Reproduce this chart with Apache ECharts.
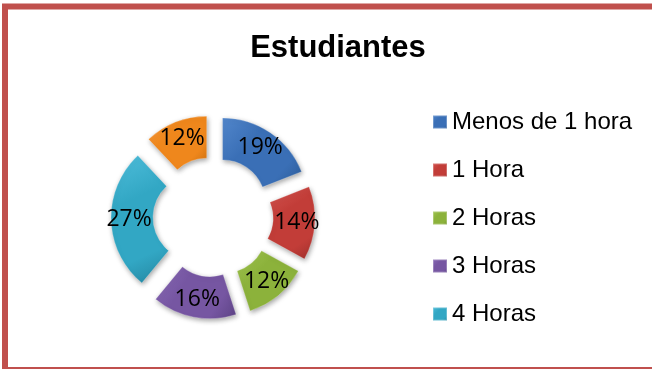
<!DOCTYPE html>
<html>
<head>
<meta charset="utf-8">
<script src="https://cdn.jsdelivr.net/npm/echarts@6/dist/echarts.min.js"></script>
<style>
  html, body { margin: 0; padding: 0; background: #ffffff; }
  #chart { width: 652px; height: 369px; }
</style>
</head>
<body>
<div id="chart"></div>
<script>
// Time spent by students, share per group
const categories = ['Menos de 1 hora', '1 Hora', '2 Horas', '3 Horas', '4 Horas', 'Más de 4 horas'];
const values = [19, 14, 12, 16, 27, 12];
const legendNames = ['Menos de 1 hora', '1 Hora', '2 Horas', '3 Horas', '4 Horas'];
// base, light and dark tones for each slice
const baseColors = ['#3a6fb6', '#c23d38', '#8cb23b', '#7656a2', '#32a7c4', '#ef871c'];
const lightColors = ['#5287cc', '#d65753', '#a3c853', '#8a6cb8', '#4fbedb', '#f69d42'];
const darkColors = ['#2b5a96', '#9c2f2b', '#6f8f2c', '#5c4284', '#23849e', '#c86d10'];

function bevel(i) {
  return new echarts.graphic.LinearGradient(0, 0, 1, 1, [
    { offset: 0, color: lightColors[i] },
    { offset: 0.35, color: baseColors[i] },
    { offset: 0.75, color: baseColors[i] },
    { offset: 1, color: darkColors[i] }
  ]);
}

const chart = echarts.init(document.getElementById('chart'));
chart.setOption({
  animation: false,
  backgroundColor: '#ffffff',
  title: {
    text: 'Estudiantes',
    left: 333,
    top: 28,
    textAlign: 'center',
    textStyle: {
      fontFamily: '"Liberation Sans", Arial, sans-serif',
      fontWeight: 'bold',
      fontSize: 31,
      color: '#000000'
    }
  },
  legend: {
    data: legendNames,
    orient: 'vertical',
    left: 427,
    top: 105,
    itemWidth: 14,
    itemHeight: 13,
    itemGap: 24,
    icon: 'rect',
    selectedMode: false,
    textStyle: {
      fontFamily: '"Liberation Sans", Arial, sans-serif',
      fontSize: 24,
      color: '#000000'
    }
  },
  series: [{
    type: 'pie',
    center: [213, 217],
    radius: [43, 85],
    startAngle: 90,
    clockwise: true,
    selectedMode: 'multiple',
    selectedOffset: 17,
    avoidLabelOverlap: false,
    label: {
      show: true,
      position: 'inside',
      formatter: '{d}%',
      fontFamily: '"Open Sans", sans-serif',
      fontSize: 23,
      color: '#000000'
    },
    labelLine: { show: false },
    itemStyle: {
      borderColor: 'rgba(255,255,255,0.25)',
      borderWidth: 1,
      shadowBlur: 5,
      shadowColor: 'rgba(0,0,0,0.35)',
      shadowOffsetX: 1,
      shadowOffsetY: 2
    },
    emphasis: { disabled: true },
    data: categories.map((name, i) => ({
      name: name,
      value: values[i],
      selected: true,
      itemStyle: { color: bevel(i) }
    }))
  }],
  graphic: [{
    type: 'rect',
    shape: { x: 5, y: 6.5, width: 700, height: 363.5 },
    style: { fill: 'none', stroke: '#c0504d', lineWidth: 6 },
    silent: true
  }]
});
</script>
</body>
</html>
